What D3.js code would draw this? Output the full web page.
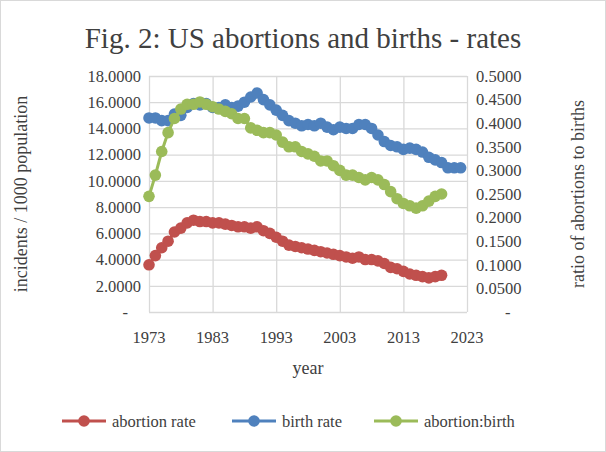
<!DOCTYPE html>
<html><head><meta charset="utf-8">
<script src="https://cdn.jsdelivr.net/npm/d3@7"></script>
<style>body{margin:0;background:#fff}</style>
</head><body><svg id="svg1" width="606" height="452" font-family="'Liberation Serif', 'DejaVu Serif', serif"></svg>
<script>
"use strict";
const birthRate = [14.8,14.8,14.6,14.6,15.1,15.0,15.6,15.9,15.8,15.9,15.6,15.6,15.8,15.6,15.7,16.0,16.4,16.7,16.2,15.8,15.4,15.0,14.6,14.4,14.2,14.3,14.2,14.4,14.1,13.9,14.1,14.0,14.0,14.3,14.3,14.0,13.5,13.0,12.7,12.6,12.4,12.5,12.4,12.2,11.8,11.6,11.4,11.0,11.0,11.0];
const abortionRate = [3.6,4.3,4.9,5.4,6.1,6.4,6.8,7.0,6.9,6.9,6.8,6.8,6.7,6.6,6.5,6.5,6.4,6.5,6.2,6.0,5.7,5.4,5.1,5.0,4.9,4.8,4.7,4.6,4.5,4.4,4.3,4.2,4.1,4.2,4.0,4.0,3.9,3.7,3.4,3.3,3.1,2.9,2.8,2.7,2.6,2.7,2.8];
const ratio = [0.245,0.29,0.34,0.38,0.41,0.43,0.44,0.44,0.445,0.44,0.435,0.43,0.425,0.42,0.41,0.41,0.39,0.385,0.38,0.38,0.375,0.36,0.35,0.35,0.34,0.335,0.33,0.32,0.32,0.31,0.30,0.29,0.29,0.285,0.28,0.285,0.28,0.27,0.255,0.24,0.23,0.225,0.22,0.225,0.235,0.245,0.25];
const startYear = 1973;
const xTicks = [1973,1983,1993,2003,2013,2023];
const leftTicks = [0,2,4,6,8,10,12,14,16,18];
const rightTicks = [0,0.05,0.1,0.15,0.2,0.25,0.3,0.35,0.4,0.45,0.5];
const txt = "#404040";

const svg = d3.select("#svg1");
svg.append("rect").attr("x",0.5).attr("y",0.5).attr("width",605).attr("height",451).attr("fill","#fff").attr("stroke","#d9d9d9");

const x = d3.scaleLinear().domain([1973,2023]).range([149,467]);
const yL = d3.scaleLinear().domain([0,18]).range([312,76]);
const yR = d3.scaleLinear().domain([0,0.5]).range([312,76]);

svg.append("g").attr("transform","translate(149,0)")
  .call(d3.axisLeft(yL).tickValues(leftTicks).tickSize(-(467-149)).tickFormat(""))
  .call(g=>{g.select(".domain").remove();g.selectAll("line").attr("stroke","#d9d9d9").attr("stroke-width",1.3);});
svg.append("g").attr("transform","translate(0,312)")
  .call(d3.axisBottom(x).tickValues(xTicks).tickSize(-(312-76)).tickFormat(""))
  .call(g=>{g.select(".domain").remove();g.selectAll("line").attr("stroke","#d9d9d9").attr("stroke-width",1.3);});

const fmt = d => d === 0 ? "-" : d3.format(".4f")(d);
svg.append("g").selectAll("text").data(leftTicks).join("text")
  .attr("x",d=>d===0?128:141).attr("y",d=>yL(d)).attr("dy","0.35em").attr("text-anchor","end")
  .attr("font-size",16.5).attr("fill",txt).text(fmt);
svg.append("g").selectAll("text").data(rightTicks).join("text")
  .attr("x",d=>d===0?505:476).attr("y",d=>yR(d)).attr("dy","0.35em")
  .attr("font-size",16.5).attr("fill",txt).text(fmt);
svg.append("g").selectAll("text").data(xTicks).join("text")
  .attr("x",d=>x(d)).attr("y",343).attr("text-anchor","middle").attr("font-size",16.5).attr("fill",txt).text(d=>d);

svg.append("text").attr("x",303).attr("y",48).attr("text-anchor","middle").attr("font-size",29).attr("fill",txt).text("Fig. 2: US abortions and births - rates");
svg.append("text").attr("x",308).attr("y",374).attr("text-anchor","middle").attr("font-size",18).attr("fill",txt).text("year");
svg.append("text").attr("transform","translate(27,194) rotate(-90)").attr("text-anchor","middle").attr("font-size",18).attr("fill",txt).text("incidents / 1000 population");
svg.append("text").attr("transform","translate(584,194) rotate(-90)").attr("text-anchor","middle").attr("font-size",18).attr("fill",txt).text("ratio of abortions to births");

function series(vals, y, color){
  const pts = vals.map((v,i)=>[x(startYear+i), y(v)]);
  svg.append("path").attr("d",d3.line()(pts)).attr("fill","none").attr("stroke",color).attr("stroke-width",3);
  svg.append("g").selectAll("circle").data(pts).join("circle")
    .attr("cx",d=>d[0]).attr("cy",d=>d[1]).attr("r",5.8).attr("fill",color);
}
series(birthRate, yL, "#4f81bd");
series(abortionRate, yL, "#c0504d");
series(ratio, yR, "#9bbb59");

const legend = [{label:"abortion rate",color:"#c0504d",x:62},{label:"birth rate",color:"#4f81bd",x:232},{label:"abortion:birth",color:"#9bbb59",x:374}];
const lg = svg.append("g").selectAll("g").data(legend).join("g").attr("transform",d=>`translate(${d.x},421)`);
lg.append("line").attr("x1",0).attr("x2",44).attr("stroke",d=>d.color).attr("stroke-width",3);
lg.append("circle").attr("cx",22).attr("r",5.8).attr("fill",d=>d.color);
lg.append("text").attr("x",50).attr("dy","0.35em").attr("font-size",16.5).attr("fill",txt).text(d=>d.label);
</script></body></html>
